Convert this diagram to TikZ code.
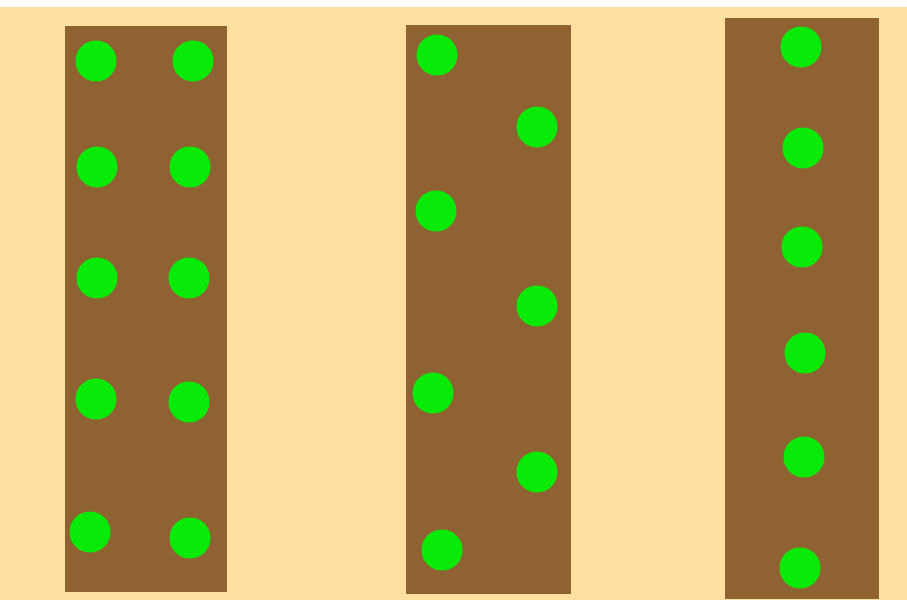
\documentclass[tikz,border=0pt]{standalone}
\definecolor{peach}{RGB}{255,223,160}
\definecolor{soil}{RGB}{143,98,50}
\definecolor{sprout}{RGB}{8,235,8}
\tikzset{
  bed/.style={fill=soil, draw=none},
  plant/.style={circle, fill=sprout, draw=none, minimum size=41pt, inner sep=0pt}
}
\begin{document}
\begin{tikzpicture}[x=1pt,y=-1pt]
\useasboundingbox (0,0) rectangle (907,600);
\fill[peach] (0,0) rectangle (907,600);
\fill[white] (0,0) rectangle (907,7);
% beds
\path[bed] (65,26) rectangle (227,592);
\path[bed] (406,25) rectangle (571,594);
\path[bed] (725,18) rectangle (879,599);
% bed 1: two rows
\node[plant] (a1) at (96,61) {};
\node[plant] (a2) at (193,61) {};
\node[plant] (a3) at (97,167) {};
\node[plant] (a4) at (190,167) {};
\node[plant] (a5) at (97,278) {};
\node[plant] (a6) at (189,278) {};
\node[plant] (a7) at (96,399) {};
\node[plant] (a8) at (189,402) {};
\node[plant] (a9) at (90,532) {};
\node[plant] (a10) at (190,538) {};
% bed 2: staggered
\node[plant] (b1) at (437,55) {};
\node[plant] (b2) at (537,127) {};
\node[plant] (b3) at (436,211) {};
\node[plant] (b4) at (537,306) {};
\node[plant] (b5) at (433,393) {};
\node[plant] (b6) at (537,472) {};
\node[plant] (b7) at (442,550) {};
% bed 3: single row
\node[plant] (c1) at (801,47) {};
\node[plant] (c2) at (803,148) {};
\node[plant] (c3) at (802,247) {};
\node[plant] (c4) at (805,353) {};
\node[plant] (c5) at (804,457) {};
\node[plant] (c6) at (800,568) {};
\end{tikzpicture}
\end{document}
